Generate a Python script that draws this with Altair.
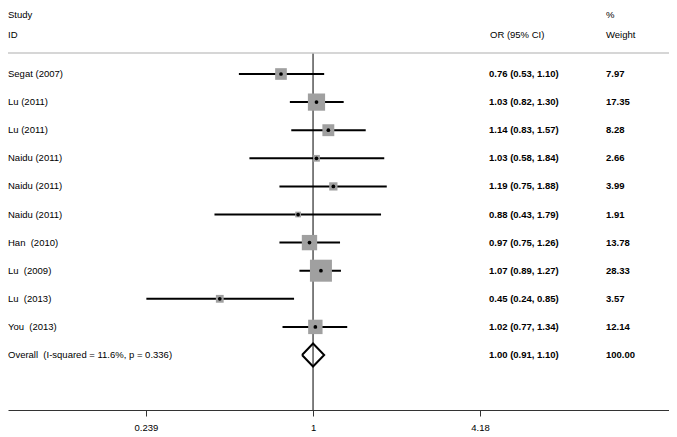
import altair as alt
import pandas as pd

studies = ["Segat (2007)", "Lu (2011)", "Lu (2011)", "Naidu (2011)", "Naidu (2011)",
           "Naidu (2011)", "Han\u00a0 (2010)", "Lu\u00a0 (2009)", "Lu\u00a0 (2013)", "You\u00a0 (2013)"]
odds = [0.76, 1.03, 1.14, 1.03, 1.19, 0.88, 0.97, 1.07, 0.45, 1.02]
lower = [0.53, 0.82, 0.83, 0.58, 0.75, 0.43, 0.75, 0.89, 0.24, 0.77]
upper = [1.10, 1.30, 1.57, 1.84, 1.88, 1.79, 1.26, 1.27, 0.85, 1.34]
weights = [7.97, 17.35, 8.28, 2.66, 3.99, 1.91, 13.78, 28.33, 3.57, 12.14]

overall_label = "Overall\u00a0 (I-squared = 11.6%, p = 0.336)"
overall_or = 1.00
overall_lo = 0.91
overall_hi = 1.10
overall_w = 100.00

tick_values = [0.239, 1, 4.18]

FONT = "Liberation Sans"
FS = 9.5
W, H = 661, 402

n = len(studies)
df = pd.DataFrame({"study": studies, "or": odds, "lo": lower, "hi": upper,
                   "w": weights, "row": list(range(n))})

lab = pd.DataFrame({
    "row": list(range(n + 1)),
    "study": studies + [overall_label],
    "ci": [f"{o:.2f} ({l:.2f}, {h:.2f})" for o, l, h in zip(odds, lower, upper)]
          + [f"{overall_or:.2f} ({overall_lo:.2f}, {overall_hi:.2f})"],
    "wt": [f"{w:.2f}" for w in weights] + [f"{overall_w:.2f}"],
})

half = 0.41
diamond = pd.DataFrame({
    "x": [overall_lo, overall_or, overall_hi, overall_or, overall_lo],
    "y": [n, n - half, n, n + half, n],
    "o": [0, 1, 2, 3, 4],
})

xscale = alt.Scale(type="log", domain=[0.0734, 21.07], nice=False, zero=False)
yscale = alt.Scale(domain=[-2.3488, 11.957], reverse=True, nice=False, zero=False)

xaxis = alt.Axis(values=tick_values, format="~g", title=None, grid=False,
                 domainColor="#333333", domainWidth=1, tickColor="#333333",
                 tickSize=6, labelFont=FONT, labelFontSize=FS, labelColor="black",
                 labelPadding=6)

base = alt.Chart(df)

ref = alt.Chart(pd.DataFrame({"v": [1]})).mark_rule(color="black", strokeWidth=1).encode(
    x=alt.X("v:Q", scale=xscale, axis=xaxis),
    y=alt.value(45), y2=alt.value(H))

sep = alt.Chart(pd.DataFrame({"v": [0]})).mark_rule(color="#c8c8c8", strokeWidth=1.5).encode(
    x=alt.value(0), x2=alt.value(W), y=alt.value(45))

ci = base.mark_rule(color="black", strokeWidth=2).encode(
    x=alt.X("lo:Q", scale=xscale), x2="hi:Q",
    y=alt.Y("row:Q", scale=yscale, axis=None))

boxes = base.mark_square(color="#a0a0a0", opacity=1).encode(
    x=alt.X("or:Q", scale=xscale),
    y=alt.Y("row:Q", scale=yscale),
    size=alt.Size("w:Q", scale=alt.Scale(domain=[0, 28.33], range=[0, 484]), legend=None))

dots = base.mark_circle(color="black", size=14, opacity=1).encode(
    x=alt.X("or:Q", scale=xscale),
    y=alt.Y("row:Q", scale=yscale))

dia = alt.Chart(diamond).mark_line(color="black", strokeWidth=2).encode(
    x=alt.X("x:Q", scale=xscale),
    y=alt.Y("y:Q", scale=yscale),
    order="o:Q")

labels_left = alt.Chart(lab).mark_text(align="left", baseline="middle", font=FONT,
                                       fontSize=FS, color="black").encode(
    x=alt.value(0), y=alt.Y("row:Q", scale=yscale), text="study:N")

labels_ci = alt.Chart(lab).mark_text(align="left", baseline="middle", font=FONT,
                                     fontSize=FS, fontWeight="bold", color="black").encode(
    x=alt.value(481), y=alt.Y("row:Q", scale=yscale), text="ci:N")

labels_wt = alt.Chart(lab).mark_text(align="left", baseline="middle", font=FONT,
                                     fontSize=FS, fontWeight="bold", color="black").encode(
    x=alt.value(598), y=alt.Y("row:Q", scale=yscale), text="wt:N")


def header(txt, px, py):
    return alt.Chart(pd.DataFrame({"t": [txt]})).mark_text(
        align="left", baseline="middle", font=FONT, fontSize=FS, color="black").encode(
        x=alt.value(px), y=alt.value(py), text="t:N")


headers = [header("Study", 0, 7), header("ID", 0, 27), header("OR (95% CI)", 482, 27),
           header("%", 598, 7), header("Weight", 598, 27)]

chart = alt.layer(ref, sep, ci, boxes, dots, dia, labels_left, labels_ci, labels_wt,
                  *headers).properties(
    width=W, height=H,
    autosize=alt.AutoSizeParams(type="none"),
    padding={"left": 0, "top": 0, "right": 0, "bottom": 30},
).configure_view(stroke=None)

chart.save("out.html", embed_options={"renderer": "svg", "actions": False})
